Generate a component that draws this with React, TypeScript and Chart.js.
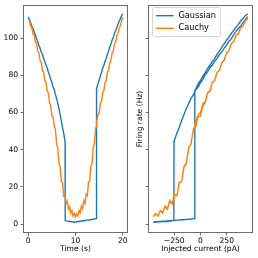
import { useEffect, useRef } from "react";
import { Chart, registerables } from "chart.js";

Chart.register(...registerables);

// ---------------- data ----------------
const timeS = [
  0, 0.25, 0.5, 0.75, 1, 1.25, 1.5, 1.75, 2, 2.25, 2.5, 2.75, 3, 3.25, 3.5, 3.75,
  4, 4.25, 4.5, 4.75, 5, 5.25, 5.5, 5.75, 6, 6.25, 6.5, 6.75, 7, 7.25, 7.5, 7.75,
  7.8, 7.82,
  8, 8.25, 8.5, 8.75, 9, 9.25, 9.5, 9.75, 10, 10.25, 10.5, 10.75, 11, 11.25, 11.5, 11.75,
  12, 12.25, 12.5, 12.75, 13, 13.25, 13.5, 13.75, 14, 14.25,
  14.38, 14.4,
  14.5, 14.75, 15, 15.25, 15.5, 15.75, 16, 16.25, 16.5, 16.75, 17, 17.25, 17.5, 17.75,
  18, 18.25, 18.5, 18.75, 19, 19.25, 19.5, 19.75, 20,
];

const currentPA = [
  450, 427.5, 405, 382.5, 360, 337.5, 315, 292.5, 270, 247.5, 225, 202.5, 180, 157.5, 135, 112.5,
  90, 67.5, 45, 22.5, 0, -22.5, -45, -67.5, -90, -112.5, -135, -157.5, -180, -202.5, -225, -247.5,
  -252, -253.8,
  -270, -292.5, -315, -337.5, -360, -382.5, -405, -427.5, -450, -427.5, -405, -382.5, -360, -337.5, -315, -292.5,
  -270, -247.5, -225, -202.5, -180, -157.5, -135, -112.5, -90, -67.5,
  -55.8, -54,
  -45, -22.5, 0, 22.5, 45, 67.5, 90, 112.5, 135, 157.5, 180, 202.5, 225, 247.5,
  270, 292.5, 315, 337.5, 360, 382.5, 405, 427.5, 450,
];

const gaussianHz = [
  111.5, 110.0, 108.3, 106.5, 105.2, 103.6, 101.8, 99.6, 98.2, 96.1, 94.6, 92.5, 91.2, 89.1, 87.6, 85.5,
  84.1, 81.8, 80.2, 77.8, 76.1, 73.7, 72.2, 69.6, 67.6, 64.9, 62.2, 58.9, 55.6, 52.1, 48.9, 45.2,
  43.6, 1.9,
  1.7, 1.6, 1.4, 1.5, 1.3, 1.2, 1.2, 1.0, 1.1, 1.2, 1.3, 1.4, 1.5, 1.5, 1.7, 1.8,
  1.9, 1.9, 2.1, 2.2, 2.3, 2.3, 2.5, 2.6, 2.7, 2.9,
  3.0, 71.8,
  72.8, 75.4, 77.3, 79.6, 81.4, 83.7, 85.4, 87.5, 89.1, 91.3, 93.0, 95.2, 96.9, 98.9,
  100.4, 102.5, 104.0, 105.9, 107.4, 109.2, 110.5, 112.1, 113.0,
];

const cauchyHz = [
  110.2, 109.6, 106.5, 105.6, 102.2, 101.5, 98.1, 97.0, 93.1, 92.0, 88.0, 86.9, 82.6, 81.7, 77.2, 76.4,
  71.4, 70.6, 65.3, 63.8, 58.2, 57.9, 52.6, 51.0, 43.1, 40.9, 32.4, 30.7, 22.8, 22.1, 15.2, 15.9,
  13.6, 14.8,
  10.8, 12.3, 8.0, 9.4, 5.9, 7.2, 4.3, 5.6, 3.9, 5.5, 4.4, 7.3, 6.1, 9.6, 8.2, 12.6,
  11.0, 16.1, 15.3, 22.4, 23.0, 31.0, 32.6, 41.2, 43.2, 51.3,
  52.2, 54.0,
  55.0, 58.9, 60.0, 64.7, 66.0, 70.6, 71.8, 76.2, 77.3, 81.6, 82.8, 86.8, 88.1, 92.0,
  93.2, 96.9, 98.1, 101.4, 102.5, 105.5, 106.6, 109.4, 111.1,
];

const seriesNames = ["Gaussian", "Cauchy"];
const seriesColors = ["#1f77b4", "#ff7f0e"];
const timeTicks = [0, 10, 20];
const currentTicks = [-250, 0, 250];
const rateTicks = [0, 20, 40, 60, 80, 100];

// ---------------- styling ----------------
const FONT_FAMILY = "'DejaVu Sans', 'Liberation Sans', sans-serif";
const TICK_SIZE = 7.6;
const LEGEND_SIZE = 8.2;
const SPINE = "#6b6b6b";

const fmtNum = (v: number) => (v < 0 ? "\u2212" + Math.abs(v) : String(v));

const framePlugin = {
  id: "frame",
  afterDatasetsDraw(chart: any) {
    const { ctx, chartArea: a } = chart;
    ctx.save();
    ctx.strokeStyle = SPINE;
    ctx.lineWidth = 1;
    ctx.strokeRect(a.left, a.top, a.right - a.left, a.bottom - a.top);
    ctx.restore();
  },
};

const legendPlugin = {
  id: "boxLegend",
  afterDatasetsDraw(chart: any) {
    const { ctx, chartArea: a } = chart;
    const x0 = a.left + 4;
    const y0 = a.top + 2;
    const w = 68;
    const h = 29;
    const r = 2;
    ctx.save();
    ctx.beginPath();
    ctx.moveTo(x0 + r, y0);
    ctx.lineTo(x0 + w - r, y0);
    ctx.arcTo(x0 + w, y0, x0 + w, y0 + r, r);
    ctx.lineTo(x0 + w, y0 + h - r);
    ctx.arcTo(x0 + w, y0 + h, x0 + w - r, y0 + h, r);
    ctx.lineTo(x0 + r, y0 + h);
    ctx.arcTo(x0, y0 + h, x0, y0 + h - r, r);
    ctx.lineTo(x0, y0 + r);
    ctx.arcTo(x0, y0, x0 + r, y0, r);
    ctx.closePath();
    ctx.fillStyle = "rgba(255,255,255,0.8)";
    ctx.fill();
    ctx.strokeStyle = "#d3d3d3";
    ctx.lineWidth = 1;
    ctx.stroke();

    const rows = [y0 + 8.2, y0 + 20.8];
    chart.data.datasets.forEach((ds: any, i: number) => {
      const y = rows[i];
      ctx.beginPath();
      ctx.strokeStyle = ds.borderColor;
      ctx.lineWidth = 1.4;
      ctx.moveTo(x0 + 3.5, y);
      ctx.lineTo(x0 + 21, y);
      ctx.stroke();
      ctx.fillStyle = "#000";
      ctx.font = `${LEGEND_SIZE}px ${FONT_FAMILY}`;
      ctx.textBaseline = "middle";
      ctx.textAlign = "left";
      ctx.fillText(ds.label, x0 + 26, y);
    });
    ctx.restore();
  },
};

type PanelOpts = {
  xValues: number[];
  xMin: number;
  xMax: number;
  xTicks: number[];
  xTitle: string;
  yTitle: string | null;
  showYLabels: boolean;
  yAxisWidth: number;
  padRight: number;
  withLegend: boolean;
};

function buildConfig(o: PanelOpts): any {
  const datasets = [gaussianHz, cauchyHz].map((ys, i) => ({
    label: seriesNames[i],
    data: ys.map((y, k) => ({ x: o.xValues[k], y })),
    borderColor: seriesColors[i],
    backgroundColor: seriesColors[i],
    borderWidth: 1.4,
    pointRadius: 0,
    showLine: true,
    fill: false,
    tension: 0,
    order: i === 0 ? 1 : 0,
  }));
  const tickFont = { family: FONT_FAMILY, size: TICK_SIZE };
  const grid = {
    drawOnChartArea: false,
    drawTicks: true,
    tickLength: 3,
    color: SPINE,
    lineWidth: 1,
  };
  return {
    type: "scatter",
    data: { datasets },
    options: {
      animation: false,
      responsive: false,
      maintainAspectRatio: false,
      events: [],
      layout: { padding: { left: 0, top: 5.5, right: o.padRight, bottom: 0 } },
      plugins: {
        legend: { display: false },
        tooltip: { enabled: false },
        title: { display: false },
      },
      scales: {
        x: {
          type: "linear",
          min: o.xMin,
          max: o.xMax,
          afterBuildTicks: (s: any) => {
            s.ticks = o.xTicks.map((v) => ({ value: v }));
          },
          afterFit: (s: any) => {
            s.height = 25.5;
            s.paddingLeft = 0;
            s.paddingRight = 0;
          },
          ticks: {
            autoSkip: false,
            maxRotation: 0,
            minRotation: 0,
            padding: 0.5,
            color: "#000",
            font: tickFont,
            callback: (v: any) => fmtNum(Number(v)),
          },
          grid,
          border: { display: false },
          title: {
            display: true,
            text: o.xTitle,
            color: "#000",
            font: tickFont,
            padding: { top: 0, bottom: 4 },
          },
        },
        y: {
          type: "linear",
          min: -4.55,
          max: 117.55,
          afterBuildTicks: (s: any) => {
            s.ticks = rateTicks.map((v) => ({ value: v }));
          },
          afterFit: (s: any) => {
            s.width = o.yAxisWidth;
            s.paddingTop = 0;
            s.paddingBottom = 0;
          },
          ticks: {
            display: o.showYLabels,
            padding: 2.4,
            color: "#000",
            font: tickFont,
            callback: (v: any) => fmtNum(Number(v)),
          },
          grid,
          border: { display: false },
          title: {
            display: !!o.yTitle,
            text: o.yTitle ?? "",
            color: "#000",
            font: tickFont,
            padding: { top: 5.7, bottom: 0 },
          },
        },
      },
    },
    plugins: o.withLegend ? [framePlugin, legendPlugin] : [framePlugin],
  };
}

export default function App() {
  const leftRef = useRef<HTMLCanvasElement>(null);
  const rightRef = useRef<HTMLCanvasElement>(null);

  useEffect(() => {
    const left = new Chart(
      leftRef.current as HTMLCanvasElement,
      buildConfig({
        xValues: timeS,
        xMin: -1,
        xMax: 21,
        xTicks: timeTicks,
        xTitle: "Time (s)",
        yTitle: null,
        showYLabels: true,
        yAxisWidth: 23.5,
        padRight: 2.5,
        withLegend: false,
      })
    );
    const right = new Chart(
      rightRef.current as HTMLCanvasElement,
      buildConfig({
        xValues: currentPA,
        xMin: -495,
        xMax: 495,
        xTicks: currentTicks,
        xTitle: "Injected current (pA)",
        yTitle: "Firing rate (Hz)",
        showYLabels: false,
        yAxisWidth: 18.5,
        padRight: 5.5,
        withLegend: true,
      })
    );
    return () => {
      left.destroy();
      right.destroy();
    };
  }, []);

  return (
    <div
      style={{
        position: "absolute",
        left: 0,
        top: 0,
        width: 258,
        height: 258,
        background: "#fff",
      }}
    >
      <canvas
        ref={leftRef}
        width={130}
        height={258}
        style={{ position: "absolute", left: 0, top: 0, width: 130, height: 258 }}
      />
      <canvas
        ref={rightRef}
        width={128}
        height={258}
        style={{ position: "absolute", left: 130, top: 0, width: 128, height: 258 }}
      />
    </div>
  );
}
